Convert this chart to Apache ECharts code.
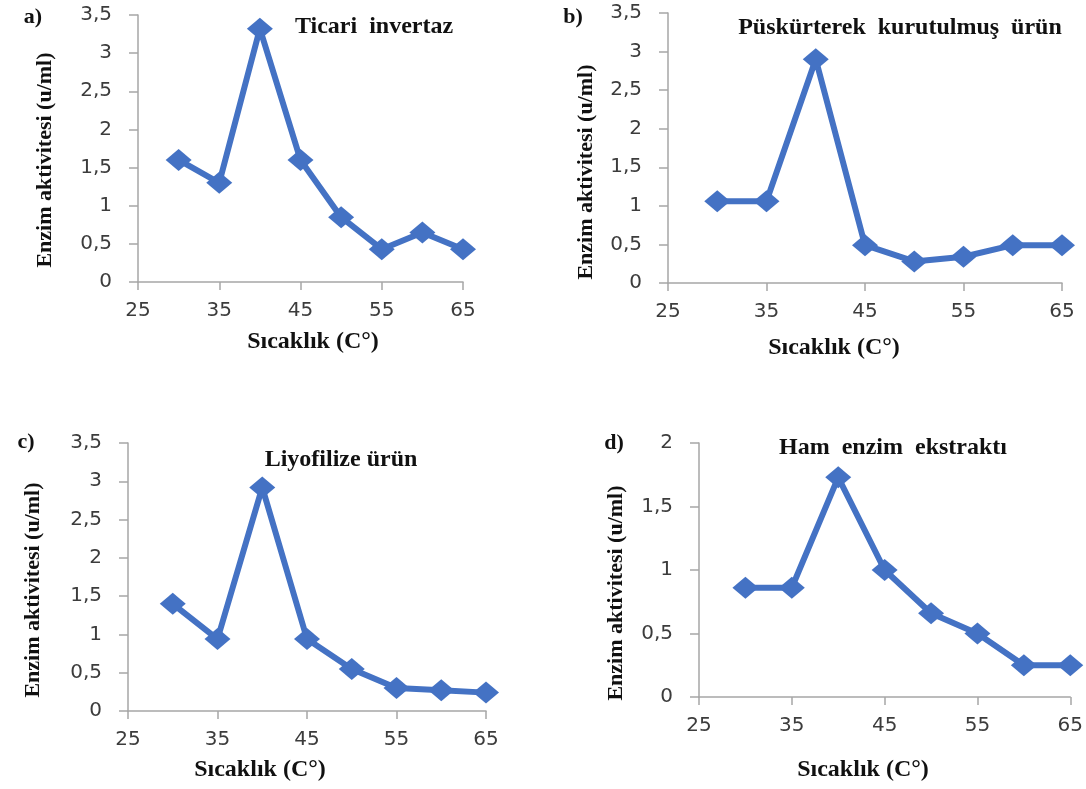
<!DOCTYPE html>
<html>
<head>
<meta charset="utf-8">
<script src="https://cdn.jsdelivr.net/npm/echarts@6/dist/echarts.min.js"></script>
<style>html,body{margin:0;padding:0;background:#fff}#c{width:1086px;height:789px}</style>
</head>
<body>
<div id="c"></div>
<script>
// ---- data ----
const temps = [30, 35, 40, 45, 50, 55, 60, 65];
const ticariInvertaz = [1.6, 1.3, 3.32, 1.6, 0.85, 0.43, 0.65, 0.43];
const puskurtmeUrun = [1.06, 1.06, 2.9, 0.49, 0.28, 0.34, 0.49, 0.49];
const liyofilizeUrun = [1.4, 0.94, 2.92, 0.94, 0.55, 0.3, 0.27, 0.24];
const hamEnzim = [0.86, 0.86, 1.73, 1.0, 0.66, 0.5, 0.25, 0.25];
const xTicks = [25, 35, 45, 55, 65];
const yMaxes = [3.5, 3.5, 3.5, 2];
const panelTitles = ['Ticari  invertaz', 'Püskürterek  kurutulmuş  ürün', 'Liyofilize ürün', 'Ham  enzim  ekstraktı'];
const panelLetters = ['a)', 'b)', 'c)', 'd)'];
const xName = 'Sıcaklık (C°)';
const yName = 'Enzim aktivitesi (u/ml)';

// ---- layout ----
const grids = [
  {left: 138, top: 15, width: 325, height: 267},
  {left: 668, top: 13, width: 394, height: 270},
  {left: 128, top: 443, width: 358, height: 268},
  {left: 699, top: 443, width: 374, height: 254}
];
const titlePos = [[374, 27], [900, 28], [341, 460], [893, 448]];
const letterPos = [[33, 17], [573, 17], [26, 442], [614, 443]];
const xNamePos = [[313, 342], [834, 348], [260, 770], [863, 770]];
const yNamePos = [[45, 160], [586, 172], [33, 590], [616, 593]];
const seriesData = [ticariInvertaz, puskurtmeUrun, liyofilizeUrun, hamEnzim];

const axisColor = '#a6a6a6';
const tickFont = 'normal 20px "DejaVu Sans", Verdana, sans-serif';
const titleFont = 'bold 24px "Liberation Serif", "Times New Roman", serif';
const yTitleFont = 'bold 22px "Liberation Serif", "Times New Roman", serif';

const chart = echarts.init(document.getElementById('c'), null, {renderer: 'canvas'});

const xAxis = grids.map((g, i) => ({
  type: 'value', gridIndex: i, min: 25, max: 65, interval: 10,
  splitLine: {show: false},
  axisLine: {show: true, lineStyle: {color: axisColor, width: 1.5}},
  axisTick: {show: true, length: 8, lineStyle: {color: axisColor, width: 1.5}},
  axisLabel: {
    margin: 19, color: '#3c3c3c', fontSize: 20, fontFamily: 'DejaVu Sans',
    formatter: v => xTicks.includes(v) ? String(v) : ''
  }
}));
const yAxis = grids.map((g, i) => ({
  type: 'value', gridIndex: i, min: 0, max: yMaxes[i], interval: 0.5,
  splitLine: {show: false},
  axisLine: {show: true, lineStyle: {color: axisColor, width: 1.5}},
  axisTick: {show: true, length: 9, lineStyle: {color: axisColor, width: 1.5}},
  axisLabel: {
    margin: 26, color: '#3c3c3c', fontSize: 20, fontFamily: 'DejaVu Sans',
    formatter: v => String(v).replace('.', ',')
  }
}));
const series = seriesData.map((d, i) => ({
  type: 'line', xAxisIndex: i, yAxisIndex: i,
  data: temps.map((t, k) => [t, d[k]]),
  symbol: 'diamond', symbolSize: [26, 22],
  lineStyle: {color: '#4472c4', width: 6},
  itemStyle: {color: '#4472c4'},
  animation: false, z: 3
}));

function txt(x, y, text, font, rot) {
  return {
    type: 'text', x: x, y: y, rotation: rot || 0, z: 10,
    style: {text: text, font: font, fill: '#111', align: 'center', verticalAlign: 'middle',
            textAlign: 'center', textVerticalAlign: 'middle'}
  };
}
const graphic = [];
for (let i = 0; i < 4; i++) {
  graphic.push(txt(titlePos[i][0], titlePos[i][1], panelTitles[i], titleFont));
  graphic.push(txt(letterPos[i][0], letterPos[i][1], panelLetters[i], 'bold 22px "Liberation Serif", serif'));
  graphic.push(txt(xNamePos[i][0], xNamePos[i][1], xName, titleFont));
  graphic.push(txt(yNamePos[i][0], yNamePos[i][1], yName, yTitleFont, Math.PI / 2));
}

chart.setOption({
  animation: false,
  backgroundColor: '#ffffff',
  textStyle: {fontFamily: 'DejaVu Sans', fontSize: 20},
  grid: grids,
  xAxis: xAxis,
  yAxis: yAxis,
  series: series,
  graphic: graphic
});
</script>
</body>
</html>
